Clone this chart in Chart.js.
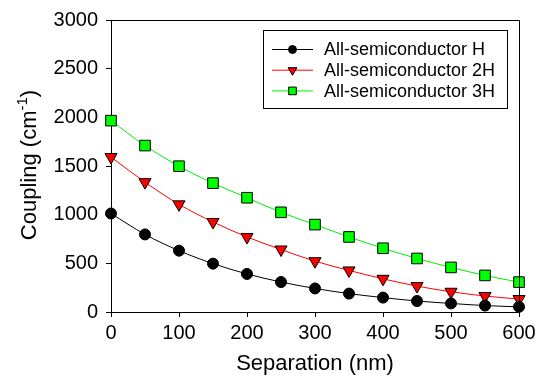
<!DOCTYPE html>
<html>
<head>
<meta charset="utf-8">
<script src="https://cdn.jsdelivr.net/npm/chart.js"></script>
<style>
  html, body { margin: 0; padding: 0; background: #fff; }
  #wrap { width: 543px; height: 377px; position: relative; }
</style>
</head>
<body>
<div id="wrap"><canvas id="chart"></canvas></div>
<script>
// --- Data ---
const separation = [0, 50, 100, 150, 200, 250, 300, 350, 400, 450, 500, 550, 600];
const couplingH = [1012, 797, 630, 497, 391, 308, 242, 189, 148, 113, 88, 66, 53];
const coupling2H = [1592, 1334, 1106, 925, 771, 642, 522, 427, 341, 266, 208, 164, 133];
const coupling3H = [1966, 1710, 1498, 1324, 1174, 1024, 898, 771, 655, 550, 458, 376, 307];
const seriesNames = ['All-semiconductor H', 'All-semiconductor 2H', 'All-semiconductor 3H'];
const xTicks = [0, 100, 200, 300, 400, 500, 600];
const yTicks = [0, 500, 1000, 1500, 2000, 2500, 3000];

const FONT = '"Liberation Sans", Arial, sans-serif';

const toPoints = ys => separation.map((x, i) => ({ x, y: ys[i] }));

function drawMarker(ctx, ds, x, y, scale) {
    Chart.helpers.drawPoint(ctx, {
        pointStyle: ds.pointStyle,
        rotation: ds.pointRotation || 0,
        radius: ds.pointRadius * scale,
        borderWidth: 1
    }, x, y);
}

// frame, y title with superscript, and a SigmaPlot-style legend
const decorPlugin = {
    id: 'decor',
    afterDraw(chart) {
        const { ctx, chartArea: a } = chart;
        ctx.save();
        // top + right frame lines
        ctx.strokeStyle = '#000';
        ctx.lineWidth = 1;
        ctx.beginPath();
        ctx.moveTo(a.left, a.top + 0.5);
        ctx.lineTo(a.right + 0.5, a.top + 0.5);
        ctx.lineTo(a.right + 0.5, a.bottom);
        ctx.stroke();

        // y axis title
        ctx.translate(30, 165);
        ctx.rotate(-Math.PI / 2);
        ctx.fillStyle = '#000';
        ctx.textBaseline = 'middle';
        const main = '22px ' + FONT, sup = '15px ' + FONT;
        ctx.font = main;
        const p1 = 'Coupling (cm', p3 = ')';
        const w1 = ctx.measureText(p1).width, w3 = ctx.measureText(p3).width;
        ctx.font = sup;
        const p2 = '-1';
        const w2 = ctx.measureText(p2).width;
        const x = -(w1 + w2 + w3) / 2;
        ctx.font = main;
        ctx.textAlign = 'left';
        ctx.fillText(p1, x, 0);
        ctx.font = sup;
        ctx.fillText(p2, x + w1, -7);
        ctx.font = main;
        ctx.fillText(p3, x + w1 + w2, 0);
        ctx.restore();

        // legend
        ctx.save();
        const box = { x: 263.5, y: 30.5, w: 244, h: 78 };
        ctx.fillStyle = '#fff';
        ctx.fillRect(box.x, box.y, box.w, box.h);
        ctx.strokeStyle = '#000';
        ctx.lineWidth = 1;
        ctx.strokeRect(box.x, box.y, box.w, box.h);
        ctx.font = '18px ' + FONT;
        ctx.textBaseline = 'middle';
        ctx.textAlign = 'left';
        chart.data.datasets.forEach((ds, i) => {
            const cy = 49.5 + i * 20.7;
            ctx.strokeStyle = ds.borderColor;
            ctx.lineWidth = 1;
            ctx.beginPath();
            ctx.moveTo(272, cy);
            ctx.lineTo(313, cy);
            ctx.stroke();
            ctx.fillStyle = ds.pointBackgroundColor;
            ctx.strokeStyle = ds.pointBorderColor;
            drawMarker(ctx, ds, 292.5, cy, 0.72);
            ctx.fillStyle = '#000';
            ctx.fillText(seriesNames[i], 324, cy + 1);
        });
        ctx.restore();
    }
};

function makeSet(i, ys, line, fill, style, radius, rot) {
    return {
        label: seriesNames[i],
        data: toPoints(ys),
        borderColor: line,
        borderWidth: 1,
        pointBackgroundColor: fill,
        pointBorderColor: '#000',
        pointBorderWidth: 1,
        pointStyle: style,
        pointRadius: radius,
        pointRotation: rot,
        cubicInterpolationMode: 'monotone',
        fill: false
    };
}

const tickFont = { family: FONT, size: 20 };

new Chart(document.getElementById('chart'), {
    type: 'line',
    data: {
        datasets: [
            makeSet(0, couplingH, '#000', '#000', 'circle', 5.5, 0),
            makeSet(1, coupling2H, '#ff0000', '#ff0000', 'triangle', 7, 180),
            makeSet(2, coupling3H, '#00ee00', '#00ff00', 'rect', 7.5, 0)
        ]
    },
    options: {
        responsive: true,
        maintainAspectRatio: false,
        animation: false,
        clip: false,
        layout: { padding: { left: 0, right: 24, top: 19, bottom: 0 } },
        plugins: {
            legend: { display: false },
            tooltip: { enabled: false }
        },
        scales: {
            x: {
                type: 'linear',
                min: 0,
                max: 600,
                afterBuildTicks: axis => { axis.ticks = xTicks.map(v => ({ value: v })); },
                ticks: { color: '#000', font: tickFont, padding: 4, maxRotation: 0, callback: v => String(v) },
                grid: { drawOnChartArea: false, tickLength: 5, tickColor: '#000' },
                border: { color: '#000', width: 1 },
                title: {
                    display: true,
                    text: 'Separation (nm)',
                    color: '#000',
                    font: { family: FONT, size: 22 },
                    padding: { top: 2, bottom: 0 }
                },
                afterFit: axis => { axis.height = 65; }
            },
            y: {
                min: 0,
                max: 3000,
                afterBuildTicks: axis => { axis.ticks = yTicks.map(v => ({ value: v })); },
                ticks: { color: '#000', font: tickFont, padding: 8, callback: v => String(v) },
                grid: { drawOnChartArea: false, tickLength: 5, tickColor: '#000' },
                border: { color: '#000', width: 1 },
                afterFit: axis => { axis.width = 111; }
            }
        }
    },
    plugins: [decorPlugin]
});
</script>
</body>
</html>
